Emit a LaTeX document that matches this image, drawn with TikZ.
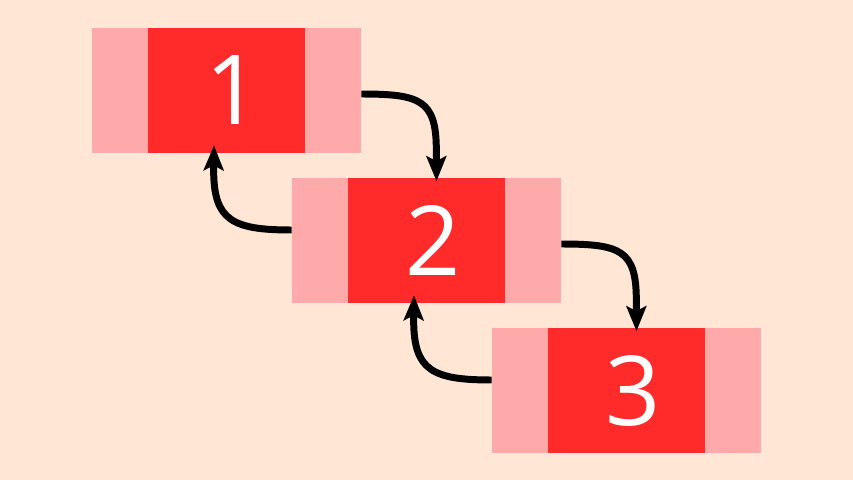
\documentclass[tikz,border=0pt]{standalone}
\usepackage{fontspec}
\setmainfont{Open Sans}
\usetikzlibrary{arrows.meta,calc}
\definecolor{bgpeach}{HTML}{FFE6D5}
\definecolor{lightpink}{HTML}{FFAAAA}
\definecolor{boxred}{HTML}{FF2A2A}
\newcommand{\digitshift}[1]{\hspace*{0.28cm}#1}
\begin{document}
\begin{tikzpicture}[x=0.02cm,y=-0.02cm,
  outerbox/.style={draw=none,fill=lightpink,minimum width=5.38cm,minimum height=2.5cm,inner sep=0pt},
  innerbox/.style={draw=none,fill=boxred,minimum width=3.14cm,minimum height=2.5cm,inner sep=0pt,text=white,font=\fontsize{55}{60}\selectfont},
  link/.style={line width=3.97pt,-{Stealth[length=14.2pt,width=11.3pt,inset=2.8pt]}}]
\fill[bgpeach] (0,0) rectangle (853,480);
\useasboundingbox (0,0) rectangle (853,480);
\node[outerbox] (b1) at (226.5,90.5) {};
\node[innerbox] (r1) at (226.5,90.5) {\digitshift{1}};
\node[outerbox] (b2) at (426.5,240.5) {};
\node[innerbox] (r2) at (426.5,240.5) {\digitshift{2}};
\node[outerbox] (b3) at (626.5,390.5) {};
\node[innerbox] (r3) at (626.5,390.5) {\digitshift{3}};
% forward links
\draw[link] ($(b1.east)+(0,3.5)$) .. controls +(59,0) and +(0,-50) .. ($(b1.east)+(75,59.5)$) -- ($(b2.north)+(10,3.5)$);
\draw[link] ($(b2.east)+(0,3.5)$) .. controls +(59,0) and +(0,-50) .. ($(b2.east)+(75,59.5)$) -- ($(b3.north)+(10,3.5)$);
% backward links
\draw[link] ($(b2.west)+(0,-10.5)$) .. controls +(-59,0) and +(0,50) .. ($(b2.west)+(-78,-70)$) -- ($(b1.south)+(-12.5,-8)$);
\draw[link] ($(b3.west)+(0,-10.5)$) .. controls +(-59,0) and +(0,50) .. ($(b3.west)+(-78,-70)$) -- ($(b2.south)+(-12.5,-8)$);
\end{tikzpicture}
\end{document}
